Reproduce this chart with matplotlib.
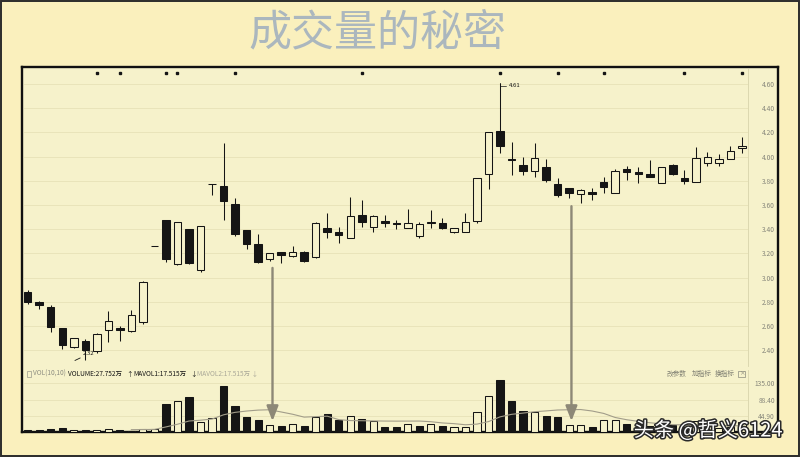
import numpy as np
import pandas as pd
import matplotlib
matplotlib.use("Agg")
import matplotlib.pyplot as plt
import matplotlib.patheffects as pe
from matplotlib.patches import Rectangle, ConnectionPatch

plt.rcParams["font.family"] = ["Noto Sans CJK SC", "DejaVu Sans"]

# daily candles
opens = [2.88, 2.80, 2.76, 2.58, 2.43, 2.48, 2.39, 2.57, 2.58, 2.56,
         2.63, 3.26, 3.48, 3.11, 3.40, 3.06, 3.77, 3.76, 3.61, 3.39,
         3.28, 3.15, 3.21, 3.18, 3.21, 3.17, 3.41, 3.38, 3.33, 3.52,
         3.42, 3.47, 3.45, 3.41, 3.34, 3.45, 3.45, 3.38, 3.38, 3.47,
         3.86, 4.21, 3.98, 3.93, 3.88, 3.91, 3.77, 3.74, 3.69, 3.71,
         3.79, 3.70, 3.90, 3.87, 3.86, 3.78, 3.93, 3.82, 3.79, 3.95,
         3.95, 3.98, 4.07]
highs = [2.90, 2.81, 2.77, 2.58, 2.50, 2.49, 2.54, 2.72, 2.60, 2.73,
         2.97, 3.26, 3.48, 3.46, 3.40, 3.43, 3.77, 4.11, 3.66, 3.39,
         3.36, 3.20, 3.21, 3.26, 3.22, 3.46, 3.53, 3.42, 3.67, 3.64,
         3.52, 3.52, 3.48, 3.57, 3.46, 3.56, 3.49, 3.41, 3.53, 3.82,
         4.20, 4.61, 4.12, 4.00, 4.11, 3.98, 3.82, 3.74, 3.73, 3.74,
         3.83, 3.90, 3.92, 3.91, 3.97, 3.91, 3.94, 3.89, 4.08, 4.04,
         4.02, 4.09, 4.16]
lows = [2.78, 2.74, 2.55, 2.41, 2.42, 2.32, 2.38, 2.47, 2.48, 2.55,
        2.62, 3.26, 3.13, 3.10, 3.11, 3.05, 3.68, 3.48, 3.34, 3.24,
        3.12, 3.14, 3.12, 3.17, 3.13, 3.16, 3.33, 3.29, 3.33, 3.42,
        3.38, 3.42, 3.40, 3.41, 3.33, 3.41, 3.40, 3.37, 3.38, 3.45,
        3.73, 4.03, 3.85, 3.85, 3.83, 3.79, 3.67, 3.66, 3.62, 3.64,
        3.70, 3.70, 3.81, 3.78, 3.83, 3.78, 3.85, 3.77, 3.79, 3.92,
        3.92, 3.98, 4.03]
closes = [2.80, 2.77, 2.59, 2.44, 2.50, 2.40, 2.53, 2.64, 2.57, 2.69,
          2.96, 3.26, 3.15, 3.46, 3.12, 3.43, 3.77, 3.63, 3.36, 3.28,
          3.13, 3.20, 3.19, 3.21, 3.14, 3.45, 3.38, 3.35, 3.51, 3.46,
          3.51, 3.45, 3.44, 3.45, 3.44, 3.46, 3.41, 3.41, 3.46, 3.82,
          4.20, 4.09, 3.97, 3.88, 3.99, 3.81, 3.68, 3.70, 3.72, 3.69,
          3.75, 3.88, 3.87, 3.86, 3.83, 3.91, 3.86, 3.80, 3.99, 4.00,
          3.98, 4.05, 4.09]

# volume in 万, and whether the bar is drawn hollow (up) or solid
volumes = [4.6, 4.6, 9, 11, 6.4, 4.6, 6.4, 9, 4.6, 3.7,
           8.3, 8.3, 77, 85, 95, 27, 38, 126, 72, 40,
           34, 18, 16, 22, 16, 41, 50, 32, 45, 36,
           29, 14, 14, 23, 17, 23, 16, 13, 14, 54,
           98, 144, 84, 57, 55, 45, 41, 20, 20, 13,
           32, 32, 22, 14, 16, 15, 18, 13, 29, 16,
           12, 14, 28]
vol_up = [0, 0, 0, 0, 1, 0, 1, 1, 0, 1,
          1, 1, 0, 1, 0, 1, 1, 0, 0, 0,
          0, 1, 0, 1, 0, 1, 0, 0, 1, 0,
          1, 0, 0, 1, 0, 1, 0, 1, 1, 1,
          1, 0, 0, 0, 1, 0, 0, 1, 1, 0,
          1, 1, 0, 0, 0, 1, 0, 0, 1, 1,
          1, 1, 1]

price_ticks = [2.40, 2.60, 2.80, 3.00, 3.20, 3.40, 3.60, 3.80, 4.00, 4.20, 4.40, 4.60]
vol_ticks = [44.90, 88.40, 135.00]
info_days = [6, 8, 12, 13, 18, 29, 41, 46, 50, 57, 62]

W, H = 800, 457
OUTER = "#faf0bd"
PANEL = "#f6f2cb"
GRID = "#e7e2b7"
INK = "#151515"


def box(l, t, r, b):
    return [l / W, 1 - b / H, (r - l) / W, (b - t) / H]


fig = plt.figure(figsize=(8, 4.57), dpi=100, facecolor=OUTER)

# outer frame of the slide
fig.add_artist(Rectangle((0.001, 0.002), 0.998, 0.996, transform=fig.transFigure,
                         fill=False, edgecolor="#2b2b2b", lw=1.4))

fig.text(377 / W, 1 - 33 / H, "成交量的秘密", fontsize=31, color="#abb7be",
         ha="center", va="center")

# chart panel
ax_bg = fig.add_axes(box(22, 67, 778, 432), facecolor=PANEL)
ax_bg.set_xticks([])
ax_bg.set_yticks([])
for s in ax_bg.spines.values():
    s.set_linewidth(1.7)
    s.set_color("#101010")

ax_p = fig.add_axes(box(24, 69, 748, 366), facecolor="none")
ax_v = fig.add_axes(box(24, 370, 748, 432), facecolor="none")

x = np.arange(len(opens))
xlim = ((24 - 27.7) / 11.52, (748 - 27.7) / 11.52)

for ax in (ax_p, ax_v):
    ax.set_xlim(*xlim)
    ax.set_xticks([])
    for side in ("top", "left", "bottom"):
        ax.spines[side].set_visible(False)
    ax.spines["right"].set_color("#d8d3ab")
    ax.spines["right"].set_linewidth(0.6)
    ax.yaxis.tick_right()
    ax.tick_params(axis="y", length=0, pad=19.4, labelsize=4.8, labelcolor="#86867a")
    ax.grid(axis="y", color=GRID, lw=0.6)
    ax.set_axisbelow(True)

ax_p.set_ylim(4.60 - 282 / 121, 4.60 + 15 / 121)
ax_p.set_yticks(price_ticks)
ax_p.set_yticklabels([f"{t:.2f}" for t in price_ticks])
ax_v.set_ylim(0, 62 * 2.75)
ax_v.set_yticks(vol_ticks)
ax_v.set_yticklabels([f"{t:.2f}" for t in vol_ticks])
for ax in (ax_p, ax_v):
    for lbl in ax.get_yticklabels():
        lbl.set_ha("right")

# candles
o = np.array(opens)
c = np.array(closes)
lo = np.minimum(o, c)
hi = np.maximum(o, c)
up = c >= o
ax_p.vlines(x[~up], np.array(lows)[~up], np.array(highs)[~up], color=INK, lw=0.75, zorder=2)
ax_p.vlines(x[up], hi[up], np.array(highs)[up], color=INK, lw=0.75, zorder=2)
ax_p.vlines(x[up], np.array(lows)[up], lo[up], color=INK, lw=0.75, zorder=2)
ax_p.bar(x, np.maximum(hi - lo, 0.003), bottom=lo, width=0.65,
         color=[PANEL if u else INK for u in up], edgecolor=INK, lw=0.75, zorder=3)

# information markers along the top
ax_p.plot(info_days, [4.69] * len(info_days), "s", ms=1.7, color=INK, zorder=3)

# high / low labels
top = int(np.argmax(highs))
bot = int(np.argmin(lows))
ax_p.annotate(f"{highs[top]:.2f}", xy=(top, highs[top]), xytext=(top + 0.75, 4.585),
              fontsize=4.3, color=INK, va="center", ha="left",
              arrowprops=dict(arrowstyle="-", lw=0.5, color=INK, shrinkA=0, shrinkB=0,
                              connectionstyle="angle,angleA=180,angleB=90,rad=0"))
ax_p.annotate(f"{lows[bot]:.2f}", xy=(bot - 0.9, lows[bot] - 0.005), xytext=(bot - 0.2, 2.37),
              fontsize=4.3, color=INK, va="center", ha="left",
              arrowprops=dict(arrowstyle="-", lw=0.6, color=INK, shrinkA=0, shrinkB=0))

# volume bars and moving average
ax_v.bar(x, volumes, width=0.62, color=[PANEL if u else INK for u in vol_up],
         edgecolor=INK, lw=0.75, zorder=3)
mavol = pd.Series(volumes).rolling(10).mean()
ax_v.plot(x, mavol, color="#a29d8a", lw=0.8, zorder=4)

# pointer arrows from price to volume
for day, start in [(21.25, 3.08), (47.2, 3.59)]:
    con = ConnectionPatch(xyA=(day, start), coordsA=ax_p.transData,
                          xyB=(day, 30), coordsB=ax_v.transData,
                          arrowstyle="-|>,head_width=0.35,head_length=0.9",
                          mutation_scale=10, color="#8d8877", lw=1.7, zorder=6)
    fig.add_artist(con)

# indicator header
yh = 1 - 374 / H
fig.add_artist(Rectangle((27 / W, 1 - 377 / H), 4 / W, 6 / H, transform=fig.transFigure,
                         fill=False, edgecolor="#9a9a8c", lw=0.5))
header = [("VOL(10,10)", 33, "#8d8d80"),
          ("VOLUME:27.752万", 68, INK),
          ("↑", 126, INK),
          ("MAVOL1:17.515万", 133, INK),
          ("↓", 190, INK),
          ("MAVOL2:17.515万 ↓", 197, "#aaa898")]
for txt, px, col in header:
    fig.text(px / W, yh, txt, fontsize=4.7, color=col, ha="left", va="center")
for txt, px in [("改参数", 667), ("加指标", 692), ("换指标", 715)]:
    fig.text(px / W, yh, txt, fontsize=4.8, color="#7f7f72", ha="left", va="center")
fig.add_artist(Rectangle((738 / W, 1 - 377 / H), 7 / W, 6 / H, transform=fig.transFigure,
                         fill=False, edgecolor="#8a8a7c", lw=0.5))
fig.text(741.5 / W, yh, "×", fontsize=4, color="#7f7f72", ha="center", va="center")

# watermark
fig.text(708 / W, 1 - 431 / H, "头条 @哲义6124", fontsize=14.5, color="white",
         ha="center", va="center", zorder=10,
         path_effects=[pe.withStroke(linewidth=2.2, foreground="#2a2a2a")])

fig.savefig("out.png", dpi=100, facecolor=OUTER)
